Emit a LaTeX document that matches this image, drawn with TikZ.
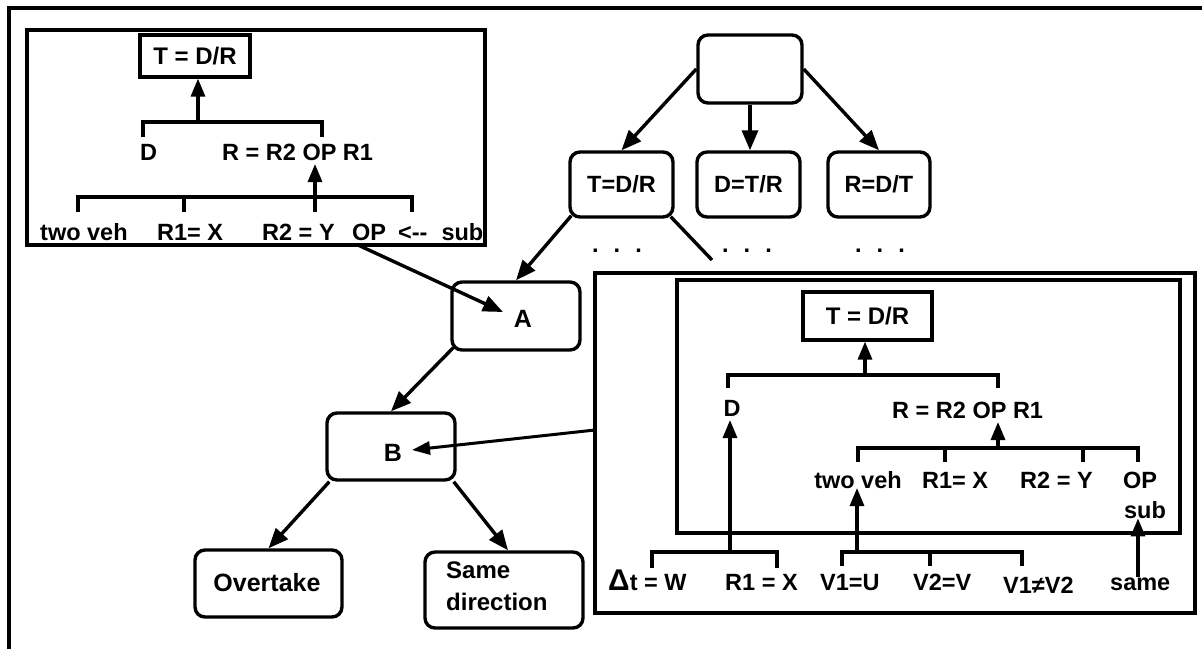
\documentclass[tikz,border=0pt]{standalone}
\usepackage{fontspec}
\setmainfont{Liberation Sans}
\usetikzlibrary{arrows.meta}
\tikzset{
  frame/.style={line width=3.4pt},
  rbox/.style={draw, line width=3.4pt, rounded corners=10pt, inner sep=0pt},
  sbox/.style={draw, line width=3.2pt, inner sep=0pt},
  txt/.style={inner sep=0pt, anchor=base west, font=\fontsize{23.5}{27}\selectfont\bfseries},
  ctxt/.style={inner sep=0pt, anchor=base, font=\fontsize{23.5}{27}\selectfont\bfseries},
  big/.style={inner sep=0pt, anchor=base, font=\fontsize{25}{29}\selectfont\bfseries},
  link/.style={line width=3.4pt, -{Triangle[length=20pt,width=16pt]}},
  brk/.style={line width=3.2pt},
  up/.style={line width=3.2pt, -{Triangle[length=18pt,width=14pt]}},
}
\begin{document}
\begin{tikzpicture}[x=1pt,y=-1pt]
\useasboundingbox (0,0) rectangle (1202,649);
% outer frame
\draw[frame] (9,649) -- (9,8) -- (1202,8);

% ---------- upper left panel ----------
\node[sbox, minimum width=458pt, minimum height=215pt] (tlbox) at (256,137.5) {};
\node[sbox, minimum width=110pt, minimum height=42pt, font=\fontsize{24}{28}\selectfont\bfseries] (tlT) at (195,56) {T = D/R};
\node[txt] (tlD) at (140,160) {D};
\node[txt] (tlR) at (222,160) {R = R2 OP R1};
\node[txt] (tla) at (40,240) {two veh};
\node[txt] (tlb) at (157,240) {R1= X};
\node[txt] (tlc) at (262,240) {R2 = Y};
\node[txt] (tld) at (352,240) {OP\hspace{12pt}<-{}-\hspace{14pt}sub};
\draw[brk] (143,137) -- (143,122) -- (322,122) -- (322,137);
\draw[up] (198,122) -- (tlT.south -| 198,0);
\draw[brk] (78,212) -- (78,197) -- (412,197) -- (412,212);
\draw[brk] (184,197) -- (184,212);
\coordinate (tlOP) at (315,164);
\draw[up] (315,212) -- (tlOP);

% ---------- top tree ----------
\node[rbox, minimum width=104pt, minimum height=68pt] (root) at (750,69) {};
\node[rbox, minimum width=103pt, minimum height=65pt, font=\fontsize{23.5}{27}\selectfont\bfseries] (n1) at (621.5,184.5) {T=D/R};
\node[rbox, minimum width=103pt, minimum height=65pt, font=\fontsize{23.5}{27}\selectfont\bfseries] (n2) at (748.5,184.5) {D=T/R};
\node[rbox, minimum width=102pt, minimum height=65pt, font=\fontsize{23.5}{27}\selectfont\bfseries] (n3) at (879,184.5) {R=D/T};
\draw[link] (root.west) -- (n1.north);
\draw[link] (root.south) -- (root.south |- n2.north);
\draw[link] (root.east) -- (n3.north);
\node[ctxt] (d1) at (617,252) {.\hspace{15pt}.\hspace{15pt}.};
\node[ctxt] (d2) at (747,252) {.\hspace{15pt}.\hspace{15pt}.};
\node[ctxt] (d3) at (880,252) {.\hspace{15pt}.\hspace{15pt}.};
\coordinate (cont) at (712,260);
\draw[line width=3.4pt] ([shift={(-4,-2)}]n1.south east) -- (cont);

% ---------- middle chain ----------
\node[rbox, minimum width=128pt, minimum height=68pt] (A) at (516,316) {};
\node[big] (Alab) at (523,327) {A};
\node[rbox, minimum width=128pt, minimum height=67pt] (B) at (391,446.5) {};
\node[big] (Blab) at (393,461) {B};
\node[rbox, minimum width=147pt, minimum height=67pt] (ov) at (268.5,583.5) {};
\node[big] (ovlab) at (267,591) {Overtake};
\node[rbox, minimum width=158pt, minimum height=76pt] (sd) at (504,590) {};
\node[inner sep=0pt, anchor=base west, align=left, font=\fontsize{24}{32}\selectfont\bfseries] (sdlab) at (446,610) {Same\\direction};

\coordinate (tlout) at (358,245);
\coordinate (Ain) at (503,312);
\draw[link] (tlout) -- (Ain);
\draw[link] ([shift={(3,-3)}]n1.south west) -- (A.north);
\draw[link] ([shift={(3,-4)}]A.south west) -- (B.north);
\draw[link] ([shift={(4,0)}]B.south west) -- (ov.north);
\draw[link] ([shift={(-3,0)}]B.south east) -- ([xshift=4pt]sd.north);

% ---------- right panel ----------
\node[sbox, minimum width=600pt, minimum height=340pt] (rbig) at (895,443) {};
\node[sbox, minimum width=503pt, minimum height=253pt] (rin) at (928.5,406.5) {};
\coordinate (bigout) at (595,430);
\coordinate (Bin) at (412,450);
\draw[line width=3pt, -{Triangle[length=18pt,width=13pt]}] (bigout) -- (Bin);

\node[sbox, minimum width=129pt, minimum height=48pt, font=\fontsize{24}{28}\selectfont\bfseries] (rT) at (867.5,316) {T = D/R};
\node[ctxt] (rD) at (732,416) {D};
\node[txt] (rR) at (892,418) {R = R2 OP R1};
\node[ctxt] (ra) at (858,488) {two veh};
\node[txt] (rb) at (922,488) {R1= X};
\node[txt] (rc) at (1020,488) {R2 = Y};
\node[ctxt] (rd) at (1140,488) {OP};
\node[ctxt] (re) at (1145,518) {sub};
\draw[brk] (728,388) -- (728,375) -- (998,375) -- (998,388);
\draw[up] (865,375) -- (rT.south -| 865,0);
\draw[brk] (858,462) -- (858,448) -- (1138,448) -- (1138,462);
\draw[brk] (945,448) -- (945,462);
\draw[brk] (1083,448) -- (1083,462);
\coordinate (rOP) at (998,422);
\draw[up] (998,448) -- (rOP);

\node[txt] (ba) at (608,590) {{\fontsize{30}{30}\selectfont Δ}t = W};
\node[txt] (bb) at (725,590) {R1 = X};
\node[txt] (bc) at (820,590) {V1=U};
\node[txt] (bd) at (913,590) {V2=V};
\node[txt] (be) at (1003,593) {V1≠V2};
\node[txt] (bf) at (1110,590) {same};
\draw[brk] (652,568) -- (652,552) -- (777,552) -- (777,568);
\coordinate (rDin) at (730,420);
\draw[up] (730,552) -- (rDin);
\draw[brk] (842,566) -- (842,552) -- (1022,552) -- (1022,566);
\draw[brk] (930,552) -- (930,566);
\coordinate (rtwo) at (857,488);
\draw[up] (857,552) -- (rtwo);
\draw[up] (bf.north -| 1138,0) -- (re.south -| 1138,0);
\end{tikzpicture}
\end{document}
